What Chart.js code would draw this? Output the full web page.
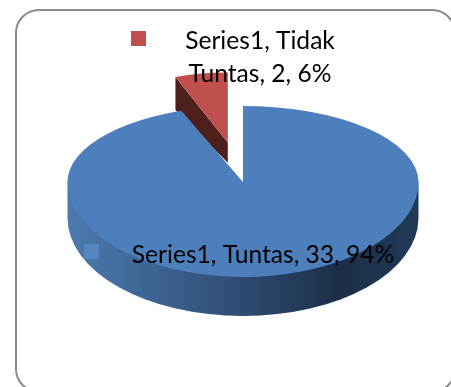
<!DOCTYPE html>
<html>
<head>
<meta charset="utf-8">
<style>
  html, body { margin: 0; padding: 0; background: #fff; overflow: hidden; }
  #frame { position: absolute; left: 15px; top: 9px; width: 441px; height: 384px; box-sizing: border-box;
           border: 2px solid #8a8a8a; border-radius: 24px; }
  #wrap { position: absolute; left: 0; top: 0; width: 451px; height: 387px; }
</style>
<script src="https://cdn.jsdelivr.net/npm/chart.js@4"></script>
</head>
<body>
<div id="frame"></div>
<div id="wrap"><canvas id="grafPie" width="451" height="387"></canvas></div>
<script>
const seriesName = 'Series1'
const categories = ['Tuntas', 'Tidak Tuntas']
const values = [33, 2]
const percents = [94, 6]
const colors = ['#4d7fbc', '#c0504d']
const keyColors = ['#5585c0', '#c0504d']

// centre and radius of the disc on the canvas
const cx = 243, cy = 182, radius = 175.5
const scaleTop = 0.433, scaleBottom = 0.541

// pulled out slice, drawn a bit smaller because it sits further back
const pull = [0, 100]
const sliceX = [1, 0.85]
const sliceY = [scaleTop, 0.4]

function toScreen(arc, i, angle, r) {
    let mid = (arc.startAngle + arc.endAngle) / 2
    let u = Math.cos(angle) * r + Math.cos(mid) * pull[i]
    let v = Math.sin(angle) * r + Math.sin(mid) * pull[i]
    return { x: cx + u * sliceX[i], y: cy + v * sliceY[i] }
}

function drawWalls(ctx, arcs) {
    // rim of the big slice, only the front half shows
    let grad = ctx.createLinearGradient(cx - radius, 0, cx + radius, 0)
    grad.addColorStop(0, '#4c7aae')
    grad.addColorStop(0.25, '#3c6391')
    grad.addColorStop(0.5, '#2d4b71')
    grad.addColorStop(0.78, '#1c2e47')
    grad.addColorStop(1, '#203a58')
    ctx.save()
    ctx.fillStyle = grad
    ctx.beginPath()
    ctx.ellipse(cx, 218, radius, 98, 0, 0, Math.PI)
    ctx.lineTo(cx - radius, cy)
    ctx.lineTo(cx + radius, cy)
    ctx.closePath()
    ctx.fill()

    // cut face of the small slice
    let a = arcs[1]
    let corner = toScreen(a, 1, a.startAngle, radius)
    let apex = toScreen(a, 1, a.startAngle, 0)
    ctx.fillStyle = '#4f1f1e'
    ctx.beginPath()
    ctx.moveTo(corner.x, corner.y)
    ctx.lineTo(apex.x, apex.y)
    ctx.lineTo(apex.x, apex.y + 20)
    ctx.lineTo(corner.x, corner.y + 33)
    ctx.closePath()
    ctx.fill()
    ctx.restore()
}

function drawSlice(ctx, arc, i, top, h, sy) {
    let mid = (arc.startAngle + arc.endAngle) / 2
    ctx.save()
    ctx.beginPath()
    ctx.rect(0, top, 451, h)
    ctx.clip()
    ctx.translate(cx, cy)
    ctx.scale(sliceX[i], sy)
    ctx.translate(Math.cos(mid) * pull[i] - arc.x, Math.sin(mid) * pull[i] - arc.y)
    arc.draw(ctx)
    ctx.restore()
}

const disc3d = {
    id: 'disc3d',
    beforeDatasetDraw(chart, args) {
        let ctx = chart.ctx
        let arcs = args.meta.data
        drawWalls(ctx, arcs)
        // the near half of the disc is stretched more than the far half
        drawSlice(ctx, arcs[0], 0, 0, cy, scaleTop)
        drawSlice(ctx, arcs[0], 0, cy, 387 - cy, scaleBottom)
        drawSlice(ctx, arcs[1], 1, 0, 387, sliceY[1])
        return false
    },
    afterDraw(chart) {
        let ctx = chart.ctx
        ctx.save()
        ctx.fillStyle = '#000'
        ctx.font = '24.6px Lato'
        ctx.textAlign = 'center'
        ctx.textBaseline = 'alphabetic'

        let labelBig = `${seriesName}, ${categories[0]}, ${values[0]}, ${percents[0]}%`
        ctx.fillText(labelBig, 263, 263)
        ctx.fillStyle = keyColors[0]
        ctx.fillRect(84, 244, 15, 15)

        let labelSmall = `${seriesName}, ${categories[1]}, ${values[1]}, ${percents[1]}%`
        let cut = labelSmall.indexOf(' Tuntas')
        ctx.fillStyle = '#000'
        ctx.fillText(labelSmall.slice(0, cut), 260, 49)
        ctx.fillText(labelSmall.slice(cut + 1), 260, 82)
        ctx.fillStyle = keyColors[1]
        ctx.fillRect(131, 31, 15, 15)
        ctx.restore()
    }
}

new Chart(document.getElementById('grafPie'), {
    type: 'pie',
    plugins: [disc3d],
    data: {
        labels: categories,
        datasets: [{
            data: values,
            backgroundColor: colors,
            borderWidth: 0,
        }]
    },
    options: {
        responsive: false,
        animation: false,
        radius: radius,
        layout: { padding: 0 },
        plugins: {
            legend: { display: false },
            tooltip: { enabled: false },
        },
    },
})
</script>
</body>
</html>
